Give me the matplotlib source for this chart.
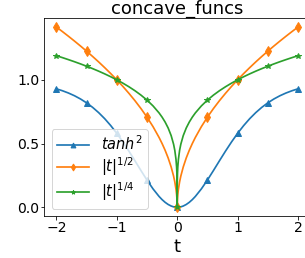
import matplotlib
matplotlib.use('Agg')
import matplotlib.pyplot as plt
import numpy as np

# positive half of t; the curves are even so the left half mirrors it
t_half = [0.0, 0.0005, 0.002, 0.005, 0.01, 0.02, 0.04, 0.06, 0.1, 0.15,
          0.2, 0.25, 0.3, 0.4, 0.5, 0.6, 0.7, 0.8, 0.9, 1.0,
          1.1, 1.2, 1.3, 1.4, 1.5, 1.6, 1.7, 1.8, 1.9, 2.0]
tanh2_half = [0.0, 0.0, 0.000004, 0.000025, 0.0001, 0.0004, 0.0016, 0.0036, 0.0099, 0.0222,
              0.0390, 0.0600, 0.0849, 0.1443, 0.2135, 0.2884, 0.3653, 0.4409, 0.5131, 0.5800,
              0.6408, 0.6950, 0.7425, 0.7839, 0.8193, 0.8495, 0.8750, 0.8964, 0.9143, 0.9293]
sqrt_half = [0.0, 0.0224, 0.0447, 0.0707, 0.1, 0.1414, 0.2, 0.2449, 0.3162, 0.3873,
             0.4472, 0.5, 0.5477, 0.6325, 0.7071, 0.7746, 0.8367, 0.8944, 0.9487, 1.0,
             1.0488, 1.0954, 1.1402, 1.1832, 1.2247, 1.2649, 1.3038, 1.3416, 1.3784, 1.4142]
root4_half = [0.0, 0.1495, 0.2115, 0.2659, 0.3162, 0.3761, 0.4472, 0.4949, 0.5623, 0.6223,
              0.6687, 0.7071, 0.7401, 0.7953, 0.8409, 0.8801, 0.9147, 0.9457, 0.9740, 1.0,
              1.0241, 1.0466, 1.0678, 1.0878, 1.1067, 1.1247, 1.1419, 1.1583, 1.1741, 1.1892]
marker_t = [-2.0, -1.5, -1.0, -0.5, 0.0, 0.5, 1.0, 1.5, 2.0]


def mirror(vals, neg=False):
    left = [-v if neg else v for v in vals[:0:-1]]
    return np.array(left + list(vals))


t = mirror(t_half, neg=True)
series = [
    (mirror(tanh2_half), '^', 6.5, r'$tanh^2$'),
    (mirror(sqrt_half), 'd', 6.5, r'$|t|^{1/2}$'),
    (mirror(root4_half), '*', 5.5, r'$|t|^{1/4}$'),
]
marks = [int(np.argmin(np.abs(t - m))) for m in marker_t]

W, H = 305, 258
DPI = 72
fig = plt.figure(figsize=(W / DPI, H / DPI), dpi=DPI)
ax = fig.add_axes([44.3 / W, (H - 216.3) / H, 265.8 / W, 198.3 / H])

for y, mk, ms, lab in series:
    ax.plot(t, y, marker=mk, markersize=ms, markevery=marks, lw=1.7, label=lab)

ax.set_xlim(-2.2, 2.2)
ax.set_ylim(-0.0707, 1.485)
ax.set_xticks([-2, -1, 0, 1, 2])
ax.set_yticks([0.0, 0.5, 1.0])
ax.tick_params(labelsize=14, pad=1.5)
ax.set_title('concave_funcs', fontsize=18, pad=2)
ax.set_xlabel('t', fontsize=18, labelpad=3)
ax.legend(loc='lower left', fontsize=14.5, handlelength=2.2,
          labelspacing=0.15, markerscale=0.75)

fig.savefig('out.png', dpi=DPI)
